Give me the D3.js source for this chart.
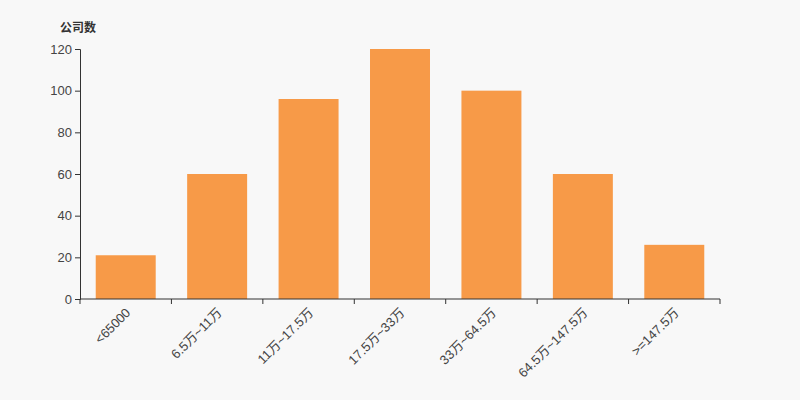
<!DOCTYPE html>
<html>
<head>
<meta charset="utf-8">
<script src="https://cdn.jsdelivr.net/npm/d3@7"></script>
<style>
  body { margin: 0; background: #f8f8f8; }
  text { font-family: "Liberation Sans", Arial, "Noto Sans CJK SC", sans-serif; }
</style>
</head>
<body>
<div id="chart"></div>
<script>
var categories = ["<65000", "6.5万~11万", "11万~17.5万", "17.5万~33万", "33万~64.5万", "64.5万~147.5万", ">=147.5万"];
var counts = [21, 60, 96, 120, 100, 60, 26];
var yTicks = [0, 20, 40, 60, 80, 100, 120];

var margin = {top: 49, right: 80, bottom: 101, left: 80},
    width = 800 - margin.left - margin.right,
    height = 400 - margin.top - margin.bottom;

var svg = d3.select("#chart")
  .append("svg")
    .attr("width", 800)
    .attr("height", 400)
    .style("background", "#f8f8f8")
  .append("g")
    .attr("transform", "translate(" + margin.left + "," + margin.top + ")");

var x = d3.scaleBand()
    .range([0, width])
    .domain(categories)
    .paddingInner(0.344)
    .paddingOuter(0.172);

var band = d3.scaleBand().range([0, width]).domain(categories);

var y = d3.scaleLinear()
    .range([height, 0])
    .domain([0, 120]);

// bars
svg.append("g")
  .selectAll("rect")
  .data(counts)
  .enter()
  .append("rect")
    .attr("x", function(d, i) { return x(categories[i]); })
    .attr("y", function(d) { return y(d); })
    .attr("width", x.bandwidth())
    .attr("height", function(d) { return height - y(d); })
    .attr("fill", "#f79a48");

// y axis
var yAxis = svg.append("g")
    .call(d3.axisLeft(y).tickValues(yTicks).tickSize(5).tickPadding(3));
yAxis.select(".domain").attr("stroke", "#333");
yAxis.selectAll(".tick line").attr("stroke", "#333");
yAxis.selectAll("text").attr("fill", "#444").style("font-size", "13px");

// x axis with ticks at band boundaries
var xg = svg.append("g")
    .attr("transform", "translate(0," + height + ")");
xg.append("line")
    .attr("x1", 0).attr("x2", width)
    .attr("stroke", "#333");
xg.selectAll("line.tk")
  .data(d3.range(categories.length + 1))
  .enter()
  .append("line")
    .attr("class", "tk")
    .attr("x1", function(i) { return i * band.step(); })
    .attr("x2", function(i) { return i * band.step(); })
    .attr("y1", 0).attr("y2", 5)
    .attr("stroke", "#333");
xg.selectAll("text")
  .data(categories)
  .enter()
  .append("text")
    .attr("transform", function(d) { return "translate(" + (band(d) + band.bandwidth() / 2) + ",9) rotate(-45)"; })
    .attr("text-anchor", "end")
    .attr("dy", "0.6em")
    .attr("fill", "#444")
    .style("font-size", "13px")
    .text(function(d) { return d; });

// y title
svg.append("text")
    .attr("x", -2)
    .attr("y", -17)
    .attr("text-anchor", "middle")
    .attr("fill", "#333")
    .style("font-size", "12px")
    .style("font-weight", "bold")
    .text("公司数");
</script>
</body>
</html>
